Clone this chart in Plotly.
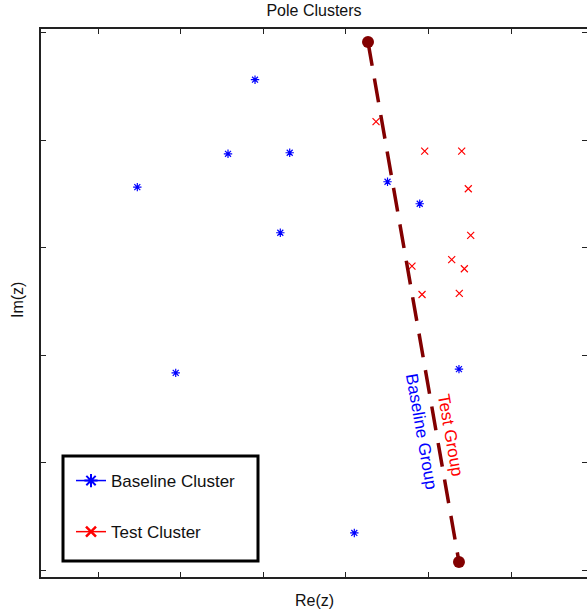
import plotly.graph_objects as go

# ---- data ----
baseline_re = [2.901, 2.574, 3.321, 1.476, 3.207, 1.941, 4.505, 4.895, 5.370, 4.103]
baseline_im = [0.913, 0.775, 0.777, 0.713, 0.628, 0.367, 0.723, 0.682, 0.374, 0.069]

test_re = [4.366, 4.955, 5.403, 5.483, 5.512, 5.282, 4.801, 5.435, 4.923, 5.374]
test_im = [0.835, 0.780, 0.780, 0.710, 0.623, 0.578, 0.566, 0.561, 0.513, 0.515]

divider_re = [4.269, 5.370]
divider_im = [0.983, 0.015]

x_ticks = [1, 2, 3, 4, 5, 6]
y_ticks = [0.0, 0.2, 0.4, 0.6, 0.8, 1.0]
x_range = [0.310, 6.920]
y_range = [-0.013, 1.0074]

FONT = "Arial, Liberation Sans, Helvetica, sans-serif"
BLUE = "#0000FF"
RED = "#FF0000"
MAROON = "#820000"

fig = go.Figure()

# data traces
fig.add_trace(go.Scatter(
    x=baseline_re, y=baseline_im, mode="markers", showlegend=False,
    marker=dict(symbol="asterisk-open", size=7, color=BLUE, line=dict(color=BLUE, width=1.2)),
))
fig.add_trace(go.Scatter(
    x=test_re, y=test_im, mode="markers", showlegend=False,
    marker=dict(symbol="x-thin-open", size=7, color=RED, line=dict(color=RED, width=1.2)),
))
fig.add_trace(go.Scatter(
    x=divider_re, y=divider_im, mode="lines+markers", showlegend=False,
    line=dict(color=MAROON, width=3.5, dash="24px,13px"),
    marker=dict(symbol="circle", size=12, color=MAROON),
))

# legend entries
fig.add_trace(go.Scatter(
    x=[None], y=[None], mode="lines+markers", name="Baseline Cluster", legendgroup="a",
    line=dict(color=BLUE, width=1.5),
    marker=dict(symbol="asterisk-open", size=11, color=BLUE, line=dict(color=BLUE, width=2)),
))
fig.add_trace(go.Scatter(
    x=[None], y=[None], mode="lines+markers", name="Test Cluster", legendgroup="b",
    line=dict(color=RED, width=1.5),
    marker=dict(symbol="x-thin-open", size=10, color=RED, line=dict(color=RED, width=2.5)),
))

# mirror axes for top/right ticks
fig.add_trace(go.Scatter(x=[None], y=[None], xaxis="x2", yaxis="y2", showlegend=False))

W, H = 587, 614
L, R, T, B = 41, 0, 29, 37
pw, ph = W - L - R, H - T - B

def px_x(p):
    return (p - L) / pw

def px_y(p):
    return (H - B - p) / ph

axis_common = dict(showgrid=False, zeroline=False, showticklabels=False,
                   ticks="inside", ticklen=5, tickwidth=1, tickcolor="#222")

fig.update_layout(
    width=W, height=H,
    margin=dict(l=L, r=R, t=T, b=B),
    paper_bgcolor="white", plot_bgcolor="white",
    font=dict(family=FONT, color="black", size=16),
    title=dict(text="Pole Clusters", x=px_x(314), xanchor="center", xref="paper",
               y=1 - 10 / H, yanchor="middle", font=dict(size=16, family=FONT, color="#111")),
    xaxis=dict(range=x_range, tickvals=x_ticks, showline=True, linecolor="#222",
               linewidth=1.5, **axis_common),
    yaxis=dict(range=y_range, tickvals=y_ticks, showline=True, linecolor="#222",
               linewidth=1.5, **axis_common),
    xaxis2=dict(range=x_range, tickvals=x_ticks, overlaying="x", side="top",
                showline=True, linecolor="#222", linewidth=1.5, **axis_common),
    yaxis2=dict(range=y_range, tickvals=y_ticks, overlaying="y", side="right",
                showline=False, **axis_common),
    showlegend=True,
    legend=dict(x=px_x(71), y=px_y(463), xanchor="left", yanchor="top",
                bgcolor="rgba(0,0,0,0)", borderwidth=0, tracegroupgap=26,
                font=dict(size=17, family=FONT, color="#111")),
    shapes=[dict(type="rect", xref="paper", yref="paper",
                 x0=px_x(63), x1=px_x(258), y0=px_y(561), y1=px_y(456),
                 line=dict(color="black", width=3), fillcolor="white", layer="above")],
    annotations=[
        dict(text="Re(z)", xref="paper", yref="paper", x=px_x(314), y=px_y(600),
             showarrow=False, font=dict(size=16, family=FONT, color="#111"),
             xanchor="center", yanchor="middle"),
        dict(text="Im(z)", xref="paper", yref="paper", x=px_x(17), y=px_y(300),
             showarrow=False, textangle=-90, font=dict(size=16, family=FONT, color="#111"),
             xanchor="center", yanchor="middle"),
        dict(text="Baseline Group", x=4.916, y=0.258, xref="x", yref="y",
             showarrow=False, textangle=80, font=dict(size=17, family=FONT, color=BLUE),
             xanchor="center", yanchor="middle"),
        dict(text="Test Group", x=5.27, y=0.251, xref="x", yref="y",
             showarrow=False, textangle=80, font=dict(size=17, family=FONT, color=RED),
             xanchor="center", yanchor="middle"),
    ],
)

fig.write_html(
    "out.html",
    config={"displayModeBar": False},
    post_script="document.body.style.margin='0';document.body.style.overflow='hidden';",
)
